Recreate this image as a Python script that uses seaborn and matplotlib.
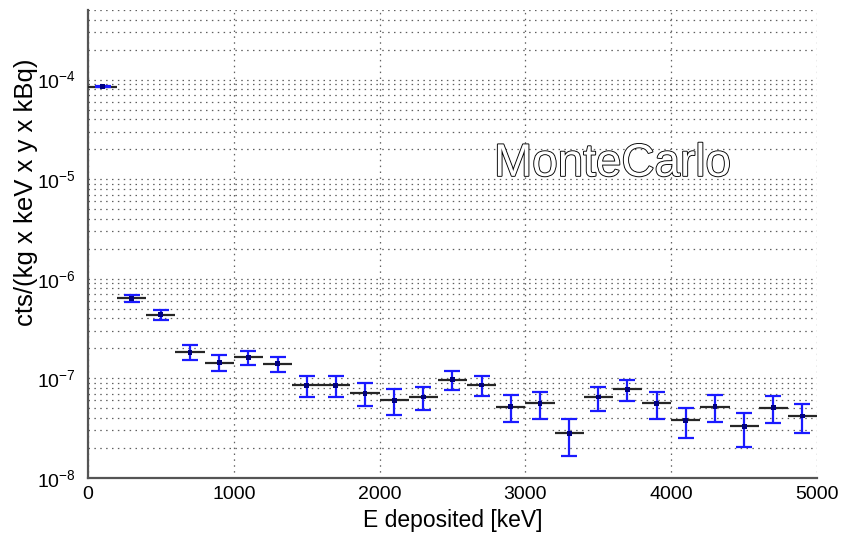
import numpy as np
import pandas as pd
import matplotlib
matplotlib.use("Agg")
import matplotlib.pyplot as plt
import matplotlib.ticker as mticker
import matplotlib.patheffects as pe
import seaborn as sns

# Monte Carlo background spectrum, 200 keV bins
energy_kev = [100, 300, 500, 700, 900, 1100, 1300, 1500, 1700, 1900,
              2100, 2300, 2500, 2700, 2900, 3100, 3300, 3500, 3700, 3900,
              4100, 4300, 4500, 4700, 4900]
rate = [8.5e-5, 6.4e-7, 4.35e-7, 1.83e-7, 1.44e-7, 1.63e-7, 1.40e-7, 8.5e-8,
        8.5e-8, 7.1e-8, 6.0e-8, 6.5e-8, 9.7e-8, 8.6e-8, 5.2e-8, 5.6e-8,
        2.8e-8, 6.5e-8, 7.8e-8, 5.6e-8, 3.8e-8, 5.2e-8, 3.3e-8, 5.1e-8, 4.2e-8]
rate_err = [1.5e-6, 5.4e-8, 4.6e-8, 3.1e-8, 2.6e-8, 2.7e-8, 2.5e-8, 2.0e-8,
            2.0e-8, 1.85e-8, 1.75e-8, 1.7e-8, 2.1e-8, 2.0e-8, 1.57e-8, 1.65e-8,
            1.15e-8, 1.76e-8, 1.9e-8, 1.65e-8, 1.28e-8, 1.57e-8, 1.24e-8,
            1.57e-8, 1.38e-8]
bin_width = 200

x_ticks = [0, 1000, 2000, 3000, 4000, 5000]
y_decades = [1e-8, 1e-7, 1e-6, 1e-5, 1e-4]

df = pd.DataFrame({"E": energy_kev, "rate": rate, "err": rate_err})

sns.set_style("white")
plt.rcParams["font.family"] = ["Liberation Sans", "DejaVu Sans"]
plt.rcParams["mathtext.fontset"] = "custom"
plt.rcParams["mathtext.rm"] = "Liberation Sans"
plt.rcParams["mathtext.it"] = "Liberation Sans"
for key in ("text.color", "axes.labelcolor", "xtick.labelcolor", "ytick.labelcolor"):
    plt.rcParams[key] = "black"

fig = plt.figure(figsize=(8.45, 5.38), dpi=100)
ax = fig.add_axes([88 / 845, 1 - 478 / 538, 729 / 845, 468 / 538])

ax.set_yscale("log")
ax.set_xlim(0, 5000)
ax.set_ylim(1e-8, 5e-4)

# grid: dotted, major + minor on y, major on x
grid_kw = dict(color="#606060", linestyle=(0, (1.2, 3.5)), linewidth=0.9)
ax.grid(True, which="major", axis="both", **grid_kw)
ax.grid(True, which="minor", axis="y", **grid_kw)
ax.set_axisbelow(True)

# bin widths
ax.hlines(df["rate"], df["E"] - bin_width / 2, df["E"] + bin_width / 2,
          color="#262626", linewidth=1.6, zorder=3)
# statistical errors
ax.errorbar(df["E"], df["rate"], yerr=df["err"], fmt="none", ecolor="#1a1aff",
            elinewidth=1.6, capsize=6, capthick=1.6, zorder=4)
sns.scatterplot(data=df, x="E", y="rate", marker="s", s=12, color="#000080",
                edgecolor="none", ax=ax, zorder=5, legend=False)

ax.set_xticks(x_ticks)
ax.set_yticks(y_decades)
ax.yaxis.set_major_formatter(mticker.LogFormatterSciNotation())
ax.yaxis.set_minor_locator(mticker.LogLocator(base=10, subs=np.arange(2, 10)))
ax.yaxis.set_minor_formatter(mticker.NullFormatter())
ax.tick_params(axis="both", which="major", direction="in", length=5,
               width=1, labelsize=14, color="#333333", pad=6)
ax.tick_params(axis="y", which="major", pad=9)
ax.tick_params(axis="y", which="minor", direction="in", length=3,
               width=0.8, color="#333333")

for side in ("top", "right"):
    ax.spines[side].set_visible(False)
for side in ("left", "bottom"):
    ax.spines[side].set_color("#555555")
    ax.spines[side].set_linewidth(1.6)

ax.set_xlabel("E deposited [keV]", fontsize=16.5, labelpad=4)
ax.set_ylabel("cts/(kg x keV x y x kBq)", fontsize=18.5)
ax.yaxis.set_label_coords(-0.068, 0.61)

ax.text(2785, 1.08e-5, "MonteCarlo", fontsize=33, color="white",
        ha="left", va="baseline", zorder=6,
        path_effects=[pe.withStroke(linewidth=1.3, foreground="black")])

fig.savefig("out.png", dpi=100)
